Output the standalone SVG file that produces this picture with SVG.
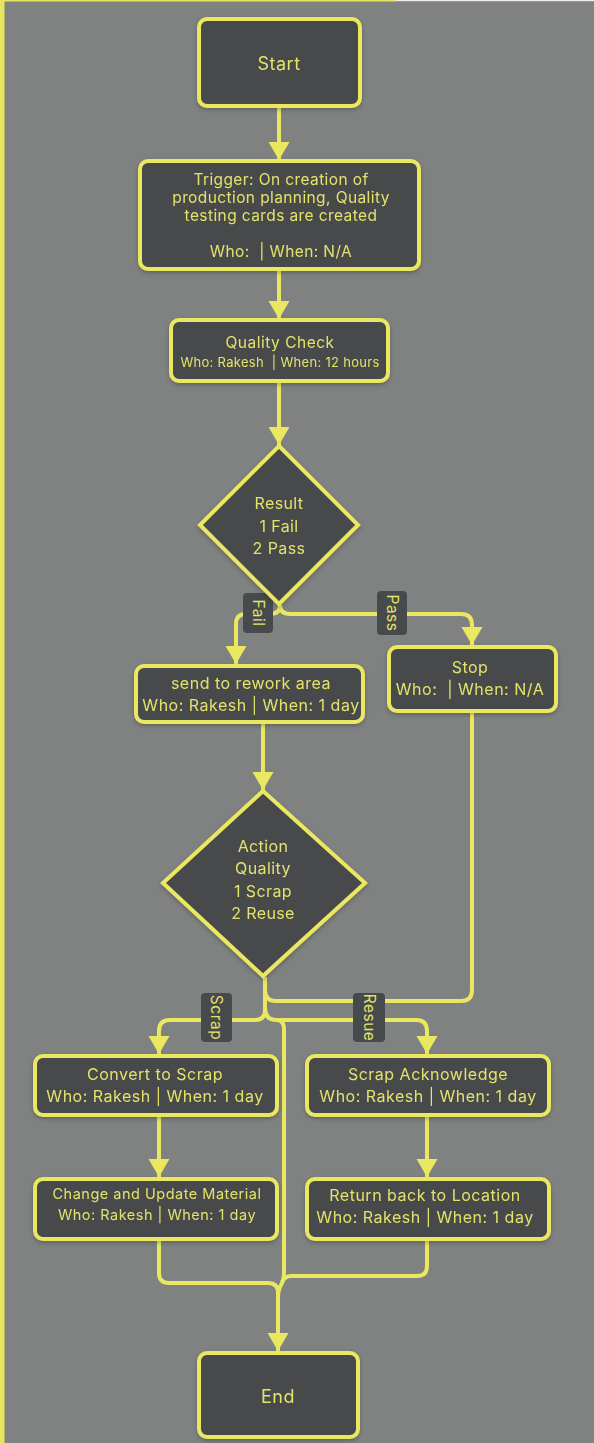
<svg xmlns="http://www.w3.org/2000/svg" width="594" height="1443" viewBox="0 0 594 1443">
<defs>
<style>
.n{fill:#474a4c;stroke:#e9e860;stroke-width:4}
.c{fill:none;stroke:#e9e860;stroke-width:4}
.t{font-family:Inter,"Liberation Sans",sans-serif;fill:#e3e26a;text-anchor:middle;letter-spacing:0.5px}
.lb{fill:#474a4c}
</style>
<marker id="ah" markerWidth="22" markerHeight="22" refX="18" refY="10.5" orient="auto" markerUnits="userSpaceOnUse"><path d="M0,0 L18,10.5 L0,21 Z" fill="#e9e860"/></marker>
<filter id="sh" x="-10%" y="-10%" width="120%" height="130%"><feDropShadow dx="0" dy="2" stdDeviation="2" flood-color="#000" flood-opacity="0.25"/></filter>
</defs>
<rect x="0" y="0" width="594" height="1443" fill="#808181"/>
<rect x="0" y="0" width="4.5" height="1443" fill="#e6e65e"/>
<rect x="0" y="0" width="396" height="1.5" fill="#e6e65e"/>
<rect x="396" y="0" width="198" height="1.2" fill="#eeeeee"/>

<g id="connectors">
<path class="c" d="M279,106 V160" marker-end="url(#ah)"/>
<path class="c" d="M279,269 V319" marker-end="url(#ah)"/>
<path class="c" d="M279,381 V445" marker-end="url(#ah)"/>
<path class="c" d="M280,605 Q280,614 270,614 H246 Q236,614 236,624 V664" marker-end="url(#ah)"/>
<path class="c" d="M280,605 Q280,614 290,614 H461 Q472,614 472,625 V645" marker-end="url(#ah)"/>
<path class="c" d="M263,722 V790" marker-end="url(#ah)"/>
<path class="c" d="M472,711 V990 Q472,1001 461,1001 H276 Q265,1001 265,990"/>
<path class="c" d="M265,977 V1010 Q265,1020 255,1020 H170 Q159,1020 159,1031 V1054" marker-end="url(#ah)"/>
<path class="c" d="M265,1008 Q265,1020 277,1020 H416 Q427,1020 427,1031 V1054" marker-end="url(#ah)"/>
<path class="c" d="M277,1020 Q284,1020 284,1030 V1272 Q284,1280 281,1285 Q278,1290 278,1298"/>
<path class="c" d="M159,1115 V1177" marker-end="url(#ah)"/>
<path class="c" d="M427,1115 V1177" marker-end="url(#ah)"/>
<path class="c" d="M159,1239 V1273 Q159,1283 169,1283 H268 Q278,1283 278,1293 V1351" marker-end="url(#ah)"/>
<path class="c" d="M427,1239 V1266 Q427,1276 417,1276 H291 Q285,1276 282,1282"/>
</g>

<g id="label-fail"><rect class="lb" x="243" y="593" width="30" height="40" rx="4"/><text class="t" font-size="15.5" transform="translate(258,613) rotate(90)" dy="5.5">Fail</text></g>
<g id="label-pass"><rect class="lb" x="377" y="591" width="30" height="44" rx="4"/><text class="t" font-size="15.5" transform="translate(392,613) rotate(90)" dy="5.5">Pass</text></g>
<g id="label-scrap"><rect class="lb" x="201" y="993" width="31" height="49" rx="4"/><text class="t" font-size="15.5" transform="translate(216.5,1017.5) rotate(90)" dy="5.5">Scrap</text></g>
<g id="label-resue"><rect class="lb" x="353" y="993" width="32" height="49" rx="4"/><text class="t" font-size="15.5" transform="translate(369,1017.5) rotate(90)" dy="5.5">Resue</text></g>

<g id="start" filter="url(#sh)"><rect class="n" x="199" y="19" width="161" height="87" rx="8"/><text class="t" x="279" y="70" font-size="18">Start</text></g>

<g id="trigger" filter="url(#sh)"><rect class="n" x="140" y="161" width="279" height="108" rx="8"/>
<text class="t" font-size="15.5" style="letter-spacing:0.4px"><tspan x="281" y="185">Trigger: On creation of</tspan><tspan x="281" y="203">production planning, Quality</tspan><tspan x="281" y="221">testing cards are created</tspan><tspan x="281" y="257" xml:space="preserve">Who:  | When: N/A</tspan></text></g>

<g id="quality-check" filter="url(#sh)"><rect class="n" x="171" y="320" width="217" height="61" rx="8"/>
<text class="t"><tspan x="280" y="348" font-size="15.5">Quality Check</tspan><tspan x="280" y="367" font-size="13" style="letter-spacing:0.3px" xml:space="preserve">Who: Rakesh  | When: 12 hours</tspan></text></g>

<g id="result" filter="url(#sh)"><polygon class="n" points="279,446 358,525 279,604 200,525"/>
<text class="t" font-size="16" style="letter-spacing:0.4px"><tspan x="279" y="509">Result</tspan><tspan x="279" y="532">1 Fail</tspan><tspan x="279" y="554">2 Pass</tspan></text></g>

<g id="rework" filter="url(#sh)"><rect class="n" x="136" y="666" width="227" height="56" rx="8"/>
<text class="t" font-size="16"><tspan x="251" y="689">send to rework area</tspan><tspan x="251" y="711">Who: Rakesh | When: 1 day</tspan></text></g>

<g id="stop" filter="url(#sh)"><rect class="n" x="389" y="647" width="167" height="64" rx="8"/>
<text class="t" font-size="16"><tspan x="470" y="673">Stop</tspan><tspan x="470" y="695" xml:space="preserve">Who:  | When: N/A</tspan></text></g>

<g id="action" filter="url(#sh)"><polygon class="n" points="263,791 365,883 263,976 163,883"/>
<text class="t" font-size="16" style="letter-spacing:0.4px"><tspan x="263" y="852">Action</tspan><tspan x="263" y="874">Quality</tspan><tspan x="263" y="897">1 Scrap</tspan><tspan x="263" y="919">2 Reuse</tspan></text></g>

<g id="convert" filter="url(#sh)"><rect class="n" x="35" y="1056" width="242" height="59" rx="8"/>
<text class="t" font-size="16"><tspan x="155" y="1080">Convert to Scrap</tspan><tspan x="155" y="1102">Who: Rakesh | When: 1 day</tspan></text></g>

<g id="scrap-ack" filter="url(#sh)"><rect class="n" x="307" y="1056" width="242" height="59" rx="8"/>
<text class="t" font-size="16"><tspan x="428" y="1080">Scrap Acknowledge</tspan><tspan x="428" y="1102">Who: Rakesh | When: 1 day</tspan></text></g>

<g id="change-update" filter="url(#sh)"><rect class="n" x="35" y="1179" width="242" height="60" rx="8"/>
<text class="t" font-size="14.5"><tspan x="157" y="1199">Change and Update Material</tspan><tspan x="157" y="1220">Who: Rakesh | When: 1 day</tspan></text></g>

<g id="return" filter="url(#sh)"><rect class="n" x="307" y="1179" width="242" height="60" rx="8"/>
<text class="t" font-size="16"><tspan x="425" y="1201">Return back to Location</tspan><tspan x="425" y="1223">Who: Rakesh | When: 1 day</tspan></text></g>

<g id="end" filter="url(#sh)"><rect class="n" x="199" y="1353" width="159" height="84" rx="8"/><text class="t" x="278" y="1403" font-size="18">End</text></g>
</svg>
